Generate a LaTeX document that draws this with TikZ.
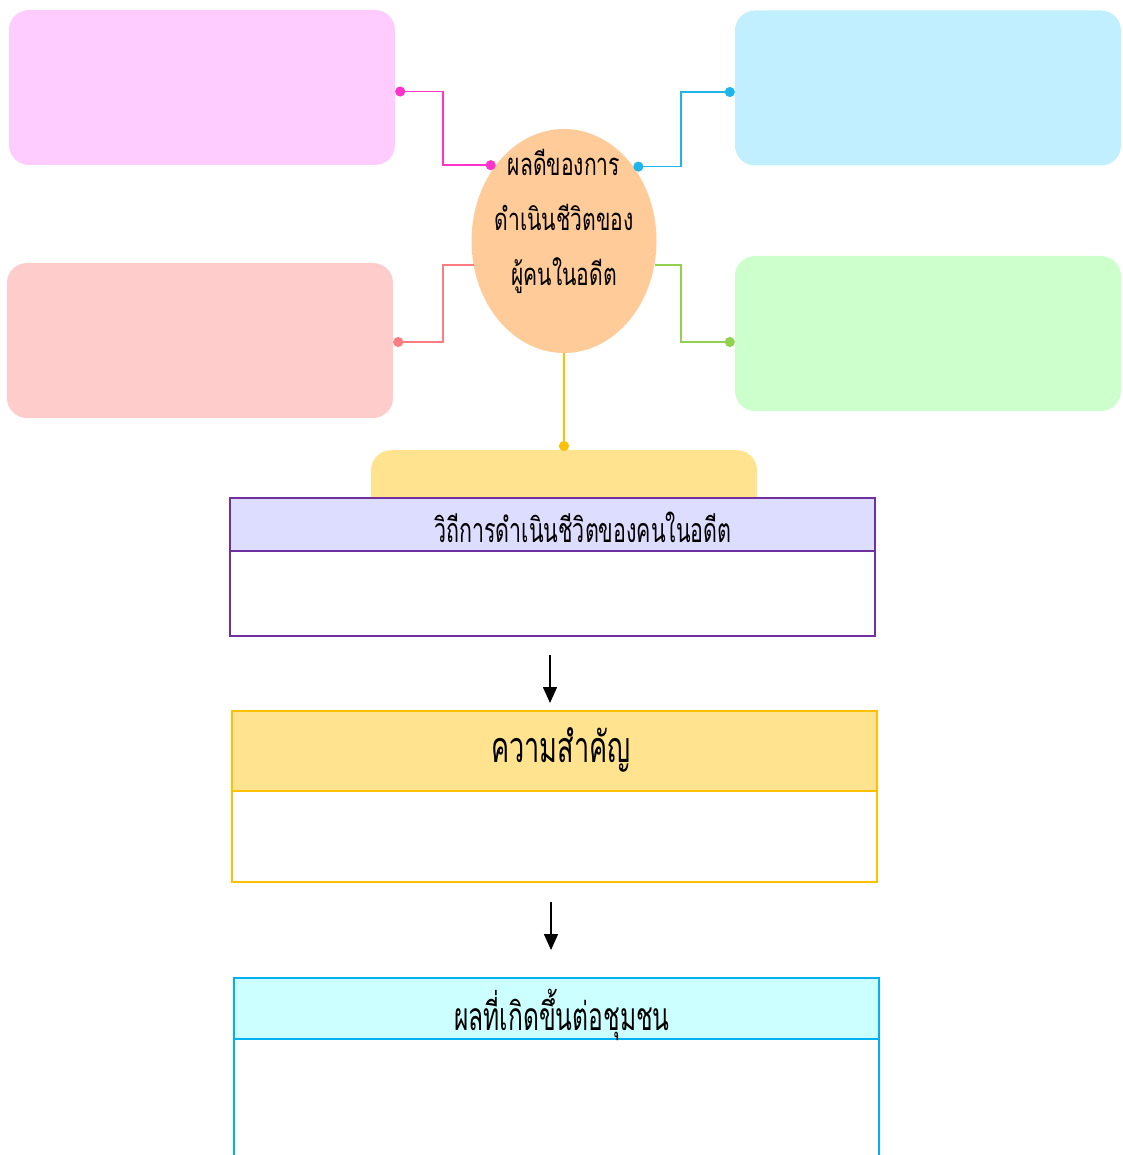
\documentclass[tikz,border=0pt]{standalone}
\usepackage{fontspec}
\usetikzlibrary{arrows.meta,shapes.geometric}
\newfontfamily\thaicore[Script=Thai,FakeStretch=0.68]{Loma}
\newfontfamily\thainarrow[Script=Thai,FakeStretch=0.63]{Loma}
\definecolor{pinkfill}{HTML}{FFCCFF}
\definecolor{pinkline}{HTML}{FF33CC}
\definecolor{bluefill}{HTML}{C1EFFF}
\definecolor{blueline}{HTML}{1CB5EC}
\definecolor{redfill}{HTML}{FFCCCC}
\definecolor{redline}{HTML}{FF7C80}
\definecolor{greenfill}{HTML}{CCFFCC}
\definecolor{greenline}{HTML}{92D050}
\definecolor{corefill}{HTML}{FFCC99}
\definecolor{goldline}{HTML}{FFC000}
\definecolor{goldfill}{HTML}{FFE38F}
\definecolor{violetline}{HTML}{7030A0}
\definecolor{violetfill}{HTML}{DDDDFF}
\definecolor{cyanfill}{HTML}{CCFFFF}
\definecolor{cyanline}{HTML}{00B0F0}
\tikzset{
  mapbox/.style={rectangle,rounded corners=20pt,minimum width=386pt,minimum height=155pt,inner sep=0pt},
  tablebox/.style={rectangle,minimum width=645pt,line width=1.8pt,inner sep=0pt,outer sep=0pt},
  link/.style={line width=1.8pt,{Circle[length=10pt]}-{Circle[length=10pt]}},
  flow/.style={line width=1.6pt,-{Triangle[length=16pt,width=14pt]}}
}
\begin{document}
\begin{tikzpicture}[x=1pt,y=-1pt]
\useasboundingbox (0,0) rectangle (1122,1155);
\node [mapbox,fill=pinkfill] (pinkbox) at (202,87.5) {};
\node [mapbox,fill=bluefill] (bluebox) at (928,88) {};
\node [mapbox,fill=redfill] (redbox) at (200,340.5) {};
\node [mapbox,fill=greenfill] (greenbox) at (928,333.5) {};
\node [mapbox,fill=goldfill,minimum height=120pt,anchor=north] (goldbox) at (564,450) {};
\node [ellipse,fill=corefill,minimum width=185pt,minimum height=224pt,inner sep=0pt] (core) at (564,241) {};
\node [font=\thaicore\fontsize{31}{55}\selectfont,align=center] (coretext) at (564,221) {ผลดีของการ\\ดำเนินชีวิตของ\\ผู้คนในอดีต};
\draw [link,pinkline] ([yshift=-4pt]pinkbox.east) -- ++(48,0) |- (core.132);
\draw [link,blueline] (core.47) -| ([xshift=-54pt,yshift=-4pt]bluebox.west) -- ([yshift=-4pt]bluebox.west);
\draw [link,redline,{Circle[length=0pt]}-{Circle[length=10pt]}] (core.195) -| ([xshift=50pt,yshift=-1.5pt]redbox.east) -- ([yshift=-1.5pt]redbox.east);
\draw [link,greenline,{Circle[length=0pt]}-{Circle[length=10pt]}] (core.345) -| ([xshift=-54pt,yshift=-8.5pt]greenbox.west) -- ([yshift=-8.5pt]greenbox.west);
\draw [link,goldline,-{Circle[length=10pt]}] (core.south) -- ([yshift=-1pt]goldbox.north);
\node [tablebox,draw=violetline,fill=violetfill,minimum height=53pt] (wayhead) at (552.5,524.5) {};
\node [tablebox,draw=violetline,fill=white,minimum height=85pt,anchor=north] (waybody) at (wayhead.south) {};
\node [font=\thainarrow\fontsize{34}{38}\selectfont] (waytext) at (583,527) {วิถีการดำเนินชีวิตของคนในอดีต};
\node [tablebox,draw=goldline,fill=goldfill,minimum height=80pt] (valuehead) at (554.5,751) {};
\node [tablebox,draw=goldline,fill=white,minimum height=91pt,anchor=north] (valuebody) at (valuehead.south) {};
\node [font=\thainarrow\fontsize{43}{48}\selectfont] (valuetext) at (561,750) {ความสำคัญ};
\node [tablebox,draw=cyanline,fill=cyanfill,minimum height=61pt] (effecthead) at (556.5,1008.5) {};
\draw [cyanline,line width=1.8pt] (effecthead.south west) -- ++(0,130) (effecthead.south east) -- ++(0,130);
\node [font=\thainarrow\fontsize{39}{44}\selectfont] (effecttext) at (562,1015) {ผลที่เกิดขึ้นต่อชุมชน};
\draw [flow] ([xshift=-2.5pt,yshift=-19pt]waybody.south) -- ([xshift=-4.5pt,yshift=8pt]valuehead.north);
\draw [flow] ([xshift=-3.5pt,yshift=-20pt]valuebody.south) -- ([xshift=-5.5pt,yshift=28pt]effecthead.north);
\end{tikzpicture}
\end{document}
